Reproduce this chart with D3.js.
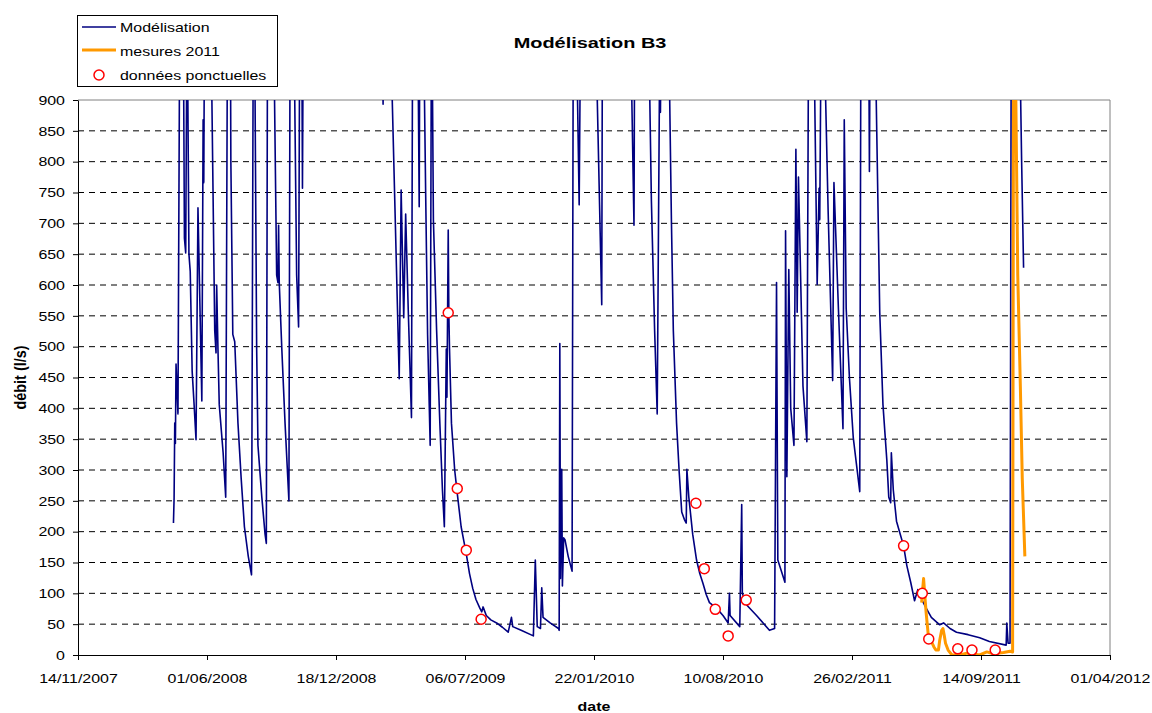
<!DOCTYPE html>
<html>
<head>
<meta charset="utf-8">
<script src="https://cdn.jsdelivr.net/npm/d3@7"></script>
<style>
  body { margin: 0; background: #fff; }
  svg { display: block; font-family: 'Liberation Sans', Arial, sans-serif; }
</style>
</head>
<body>
<div id="chart"></div>
<script>
// modelled flow (l/s); values above 900 are off the chart and only estimated
const modelDates = [
  '2008-04-10','2008-04-11','2008-04-12','2008-04-13','2008-04-14','2008-04-17','2008-04-20','2008-04-24','2008-04-27','2008-04-29',
  '2008-05-01','2008-05-02','2008-05-04','2008-05-06','2008-05-09','2008-05-12','2008-05-15','2008-05-18','2008-05-24','2008-05-26',
  '2008-05-27','2008-05-28','2008-06-04','2008-06-08','2008-06-13','2008-06-15','2008-06-16','2008-06-18','2008-06-20','2008-06-26',
  '2008-06-30','2008-07-03','2008-07-06','2008-07-08','2008-07-11','2008-07-14','2008-07-19','2008-07-24','2008-07-29','2008-08-04',
  '2008-08-09','2008-08-12','2008-08-13','2008-08-17','2008-08-19','2008-08-25','2008-08-30','2008-09-01','2008-09-03','2008-09-08',
  '2008-09-12','2008-09-17','2008-09-19','2008-09-20','2008-09-21','2008-09-25','2008-09-30','2008-10-06','2008-10-08','2008-10-11',
  '2008-10-14','2008-10-18','2008-10-21','2008-10-23','2008-10-26','2008-10-27','2008-10-29','2008-11-15','2008-12-10','2009-01-05',
  '2009-02-01','2009-02-25','2009-03-01','2009-03-03','2009-03-14','2009-03-20','2009-03-26','2009-03-29','2009-04-02','2009-04-05',
  '2009-04-09','2009-04-14','2009-04-16','2009-04-20','2009-04-24','2009-04-26','2009-04-27','2009-04-30','2009-05-03','2009-05-06',
  '2009-05-09','2009-05-13','2009-05-15','2009-05-16','2009-05-18','2009-05-23','2009-05-28','2009-06-01','2009-06-04','2009-06-07',
  '2009-06-08','2009-06-10','2009-06-11','2009-06-12','2009-06-15','2009-06-20','2009-06-24','2009-06-30','2009-07-04','2009-07-08',
  '2009-07-13','2009-07-18','2009-07-23','2009-07-29','2009-08-01','2009-08-03','2009-08-08','2009-08-15','2009-08-24','2009-09-02',
  '2009-09-11','2009-09-16','2009-09-18','2009-10-01','2009-10-20','2009-10-23','2009-10-26','2009-10-31','2009-11-02','2009-11-04',
  '2009-11-15','2009-11-28','2009-11-29','2009-11-30','2009-12-01','2009-12-03','2009-12-04','2009-12-06','2009-12-08','2009-12-13',
  '2009-12-19','2009-12-21','2009-12-23','2009-12-26','2009-12-30','2010-01-01','2010-01-10','2010-01-25','2010-02-03','2010-02-04',
  '2010-02-20','2010-03-20','2010-03-25','2010-03-26','2010-04-03','2010-04-17','2010-04-21','2010-04-26','2010-04-30','2010-05-04',
  '2010-05-05','2010-05-06','2010-05-12','2010-05-18','2010-05-22','2010-05-25','2010-05-30','2010-06-03','2010-06-07','2010-06-11',
  '2010-06-14','2010-06-15','2010-06-18','2010-06-24','2010-06-30','2010-07-05','2010-07-10','2010-07-15','2010-07-20','2010-07-31',
  '2010-08-10','2010-08-18','2010-08-20','2010-08-21','2010-09-05','2010-09-08','2010-09-09','2010-09-15','2010-10-01','2010-10-21',
  '2010-10-29','2010-11-01','2010-11-03','2010-11-14','2010-11-15','2010-11-17','2010-11-20','2010-11-23','2010-11-28','2010-12-01',
  '2010-12-03','2010-12-05','2010-12-12','2010-12-18','2010-12-21','2010-12-25','2010-12-29','2011-01-03','2011-01-06','2011-01-07',
  '2011-01-09','2011-01-12','2011-01-14','2011-01-20','2011-01-27','2011-01-29','2011-02-05','2011-02-12','2011-02-14','2011-02-17',
  '2011-02-22','2011-02-28','2011-03-10','2011-03-12','2011-03-18','2011-03-24','2011-03-25','2011-03-26','2011-03-30','2011-04-03',
  '2011-04-10','2011-04-15','2011-04-21','2011-04-24','2011-04-27','2011-04-28','2011-05-01','2011-05-06','2011-05-12','2011-05-17',
  '2011-05-22','2011-05-28','2011-06-03','2011-06-08','2011-06-10','2011-06-15','2011-06-21','2011-06-29','2011-07-12','2011-07-18',
  '2011-07-28','2011-08-07','2011-08-25','2011-09-12','2011-09-27','2011-10-23','2011-10-24','2011-10-26','2011-10-29','2011-10-31',
  '2011-11-06','2011-11-13','2011-11-16','2011-11-19'
]
const modelValues = [
  214, 255, 376, 343, 472, 391, 1100, 1300, 676, 652,
  1050, 950, 650, 622, 460, 406, 349, 725, 412, 868,
  766, 1000, 1500, 950, 526, 490, 600, 496, 406, 328,
  256, 1100, 1400, 800, 520, 508, 376, 286, 208, 160,
  130, 1100, 1150, 496, 340, 256, 196, 181, 1100, 1600,
  1050, 616, 604, 697, 604, 496, 376, 250, 1100, 1300,
  1000, 616, 532, 1100, 1000, 757, 1200, 1800, 2500, 2000,
  1800, 1200, 893, 1200, 950, 700, 448, 754, 547, 715,
  560, 385, 1100, 1500, 1000, 727, 1050, 1400, 1000, 750,
  520, 340, 1050, 1000, 706, 526, 376, 268, 208, 496,
  418, 689, 550, 496, 376, 300, 262, 208, 186, 164,
  132, 108, 90, 76, 70, 78, 64, 57, 52, 45,
  37, 61, 46, 40, 31, 154, 46, 43, 109, 61,
  52, 43, 40, 505, 124, 301, 112, 190, 187, 160,
  136, 1100, 1300, 1000, 730, 1000, 1800, 1000, 568, 1000,
  1900, 1000, 697, 1000, 1600, 1000, 736, 526, 391, 1000,
  880, 1000, 1500, 1000, 706, 526, 376, 298, 232, 220,
  214, 301, 256, 196, 154, 132, 116, 98, 85, 76,
  64, 52, 100, 64, 46, 244, 100, 82, 64, 40,
  43, 604, 154, 118, 688, 289, 625, 400, 340, 820,
  556, 775, 436, 346, 1100, 1500, 1000, 601, 757, 706,
  1000, 1500, 1000, 720, 445, 766, 560, 367, 868, 562,
  450, 352, 265, 1100, 1500, 1000, 784, 1000, 1400, 1000,
  556, 406, 316, 256, 247, 328, 268, 217, 195, 177,
  145, 118, 88, 106, 103, 88, 76, 61, 49, 52,
  43, 37, 33, 28, 22, 16, 52, 19, 19, 1100,
  1800, 1000, 800, 628
]

// 2011 field measurements
const mesureDates = [
  '2011-06-14','2011-06-15','2011-06-17','2011-06-19','2011-06-21','2011-06-24','2011-06-29','2011-07-03','2011-07-06','2011-07-10',
  '2011-07-12','2011-07-15','2011-07-17','2011-07-19','2011-07-21','2011-07-25','2011-07-31','2011-08-12','2011-08-23','2011-09-12',
  '2011-09-23','2011-10-03','2011-10-19','2011-10-29','2011-11-02','2011-11-04','2011-11-06','2011-11-10','2011-11-14','2011-11-17',
  '2011-11-21'
]
const mesureValues = [
  85, 100, 124, 95, 68, 35, 22, 13, 8, 8,
  24, 40, 43, 32, 19, 8, 0, 0, 3, 0,
  5, 2, 4, 6, 5, 1300, 1000, 616, 436, 286,
  160
]

// spot gaugings
const pointDates = [
  '2009-06-10','2009-06-24','2009-07-08','2009-07-31',
  '2010-06-29','2010-07-12','2010-07-29','2010-08-18','2010-09-15',
  '2011-05-17','2011-06-15','2011-06-25','2011-08-09','2011-08-31','2011-10-06'
]
const pointValues = [555, 270, 170, 58, 246, 140, 74, 31, 89, 177, 100, 26, 10, 8, 8]

const xTicks = ['2007-11-14','2008-06-01','2008-12-18','2009-07-06','2010-01-22','2010-08-10','2011-02-26','2011-09-14','2012-04-01']
const yTicks = d3.range(0, 901, 50)

const width = 1152
const height = 713
const margin = { top: 100, right: 42, bottom: 58, left: 78 }
const sx = 1.33 // the original picture is stretched sideways
const parse = d3.timeParse('%Y-%m-%d')

const model = modelDates.map((d, i) => ({ date: parse(d), value: modelValues[i] }))
const mesures = mesureDates.map((d, i) => ({ date: parse(d), value: mesureValues[i] }))
const points = pointDates.map((d, i) => ({ date: parse(d), value: pointValues[i] }))

const xScale = d3.scaleTime()
  .domain([parse(xTicks[0]), parse(xTicks[xTicks.length - 1])])
  .range([margin.left, width - margin.right])

const yScale = d3.scaleLinear()
  .domain([0, 900])
  .range([height - margin.bottom, margin.top])

const svg = d3.select('#chart')
  .append('svg')
  .attr('width', width)
  .attr('height', height)
  .attr('viewBox', [0, 0, width, height])

const label = (x, y, str, size, bold, anchor) => svg.append('text')
  .attr('transform', `translate(${x},${y}) scale(${sx},1)`)
  .attr('text-anchor', anchor || 'start')
  .attr('font-size', size)
  .attr('font-weight', bold ? 'bold' : 'normal')
  .attr('fill', '#000')
  .text(str)

// grid
svg.append('g')
  .selectAll('line')
  .data(yTicks.filter(v => v > 0 && v < 900))
  .join('line')
  .attr('x1', margin.left)
  .attr('x2', width - margin.right)
  .attr('y1', d => yScale(d))
  .attr('y2', d => yScale(d))
  .attr('stroke', '#000')
  .attr('stroke-dasharray', '6,5')

// plot border (top / right)
svg.append('path')
  .attr('d', `M${margin.left},${yScale(900)}H${width - margin.right}V${yScale(0)}`)
  .attr('fill', 'none')
  .attr('stroke', '#808080')

svg.append('clipPath').attr('id', 'clip')
  .append('rect')
  .attr('x', margin.left)
  .attr('y', margin.top)
  .attr('width', width - margin.left - margin.right)
  .attr('height', height - margin.top - margin.bottom)

const line = d3.line()
  .x(d => xScale(d.date))
  .y(d => yScale(d.value))

const plot = svg.append('g').attr('clip-path', 'url(#clip)')

plot.append('path')
  .datum(model)
  .attr('d', line)
  .attr('fill', 'none')
  .attr('stroke', '#000080')
  .attr('stroke-width', 1.6)
  .attr('stroke-linejoin', 'round')

plot.append('path')
  .datum(mesures)
  .attr('d', line)
  .attr('fill', 'none')
  .attr('stroke', '#ff9900')
  .attr('stroke-width', 3)
  .attr('stroke-linejoin', 'round')

svg.append('g')
  .selectAll('circle')
  .data(points)
  .join('circle')
  .attr('cx', d => xScale(d.date))
  .attr('cy', d => yScale(d.value))
  .attr('r', 5)
  .attr('fill', '#fff')
  .attr('stroke', '#ff0000')
  .attr('stroke-width', 1.5)

// axes
const xAxis = g => g
  .attr('transform', `translate(0,${yScale(0)})`)
  .call(d3.axisBottom(xScale)
    .tickValues(xTicks.map(parse))
    .tickFormat(d3.timeFormat('%d/%m/%Y'))
    .tickSize(5)
    .tickSizeOuter(0))
  .call(g => g.selectAll('.tick text')
    .attr('y', null).attr('dy', null)
    .attr('font-size', 12)
    .attr('fill', '#000')
    .attr('transform', `translate(0,28) scale(${sx},1)`))

const yAxis = g => g
  .attr('transform', `translate(${margin.left},0)`)
  .call(d3.axisLeft(yScale)
    .tickValues(yTicks)
    .tickSize(5)
    .tickSizeOuter(0))
  .call(g => g.selectAll('.tick text')
    .attr('x', null)
    .attr('dy', '0.35em')
    .attr('font-size', 12)
    .attr('fill', '#000')
    .attr('transform', `translate(-13,0) scale(${sx},1)`))

svg.append('g').call(xAxis)
svg.append('g').call(yAxis)
svg.selectAll('.domain, .tick line').attr('stroke', '#000')

// titles
label(590, 48, 'Modélisation B3', 15, true, 'middle')
label(594, 711, 'date', 12, true, 'middle')
svg.append('text')
  .attr('transform', `translate(26,${(yScale(0) + yScale(900)) / 2}) rotate(-90) scale(1.2,${sx})`)
  .attr('text-anchor', 'middle')
  .attr('font-size', 12)
  .attr('font-weight', 'bold')
  .text('débit (l/s)')

// legend
svg.append('rect')
  .attr('x', 77.5).attr('y', 15.5)
  .attr('width', 200).attr('height', 71)
  .attr('fill', '#fff')
  .attr('stroke', '#000')

svg.append('line')
  .attr('x1', 82).attr('x2', 116).attr('y1', 27).attr('y2', 27)
  .attr('stroke', '#000080').attr('stroke-width', 1.6)
svg.append('line')
  .attr('x1', 82).attr('x2', 116).attr('y1', 50).attr('y2', 50)
  .attr('stroke', '#ff9900').attr('stroke-width', 3)
svg.append('circle')
  .attr('cx', 99).attr('cy', 75).attr('r', 5)
  .attr('fill', '#fff').attr('stroke', '#ff0000').attr('stroke-width', 1.5)

label(120, 32, 'Modélisation', 12)
label(120, 56, 'mesures 2011', 12)
label(120, 80, 'données ponctuelles', 12)
</script>
</body>
</html>
